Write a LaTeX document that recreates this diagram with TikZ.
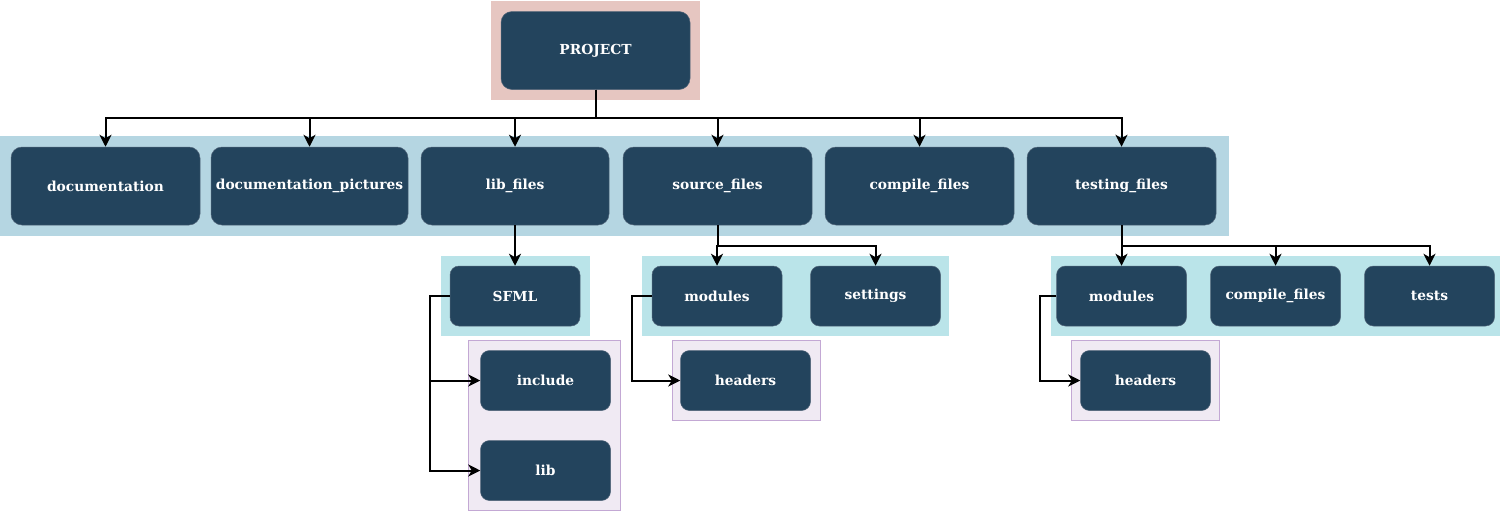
\documentclass[tikz,border=0pt]{standalone}
\usepackage{fontspec}
\newfontfamily\nodefont{DejaVu Serif}
\usetikzlibrary{arrows.meta}
\definecolor{dk}{RGB}{35,68,93}
\definecolor{dkb}{RGB}{80,100,120}
\definecolor{pinkbg}{RGB}{230,198,193}
\definecolor{bluebg}{RGB}{181,214,226}
\definecolor{cyanbg}{RGB}{186,228,233}
\definecolor{purpbg}{RGB}{240,234,243}
\definecolor{purpbd}{RGB}{195,168,212}
\tikzset{
  box/.style={rectangle, rounded corners=9pt, fill=dk, draw=dkb, line width=0.5pt,
    text=white, font=\nodefont\bfseries\fontsize{13.8}{16}\selectfont, inner sep=0pt},
  big/.style={box, minimum width=189pt, minimum height=78pt, rounded corners=11pt},
  small/.style={box, minimum width=130pt, minimum height=60pt},
  conn/.style={draw=black, line width=2pt, -{Stealth[length=12pt,width=12pt,inset=3.5pt]}},
}
\begin{document}
\begin{tikzpicture}[x=1pt,y=-1pt]
\useasboundingbox (0,0) rectangle (1501,512);
% backgrounds
\fill[pinkbg] (491,1) rectangle (700,100);
\fill[bluebg] (0,136) rectangle (1229,236);
\fill[cyanbg] (441,256) rectangle (590,336);
\fill[cyanbg] (642,256) rectangle (949,336);
\fill[cyanbg] (1051,256) rectangle (1500,336);
\filldraw[fill=purpbg, draw=purpbd, line width=0.8pt] (468.5,340.5) rectangle (620.5,510);
\filldraw[fill=purpbg, draw=purpbd, line width=0.8pt] (672.5,340.5) rectangle (820.5,420);
\filldraw[fill=purpbg, draw=purpbd, line width=0.8pt] (1071.5,340.5) rectangle (1219.5,420);
% nodes
\node[big] (proj) at (595.5,50.5) {PROJECT};
\node[big] (doc) at (105.5,186) {documentation};
\node[big, minimum width=197pt] (docpic) at (309.5,186) {documentation\_pictures};
\node[big, minimum width=188pt] (lib) at (515,186) {lib\_files};
\node[big] (src) at (717.5,186) {source\_files};
\node[big] (comp) at (919.5,186) {compile\_files};
\node[big] (test) at (1121.5,186) {testing\_files};
\node[small] (sfml) at (515,296) {SFML};
\node[small] (incl) at (545.5,380.5) {include};
\node[small] (libb) at (545.5,470.5) {lib};
\node[small] (mod1) at (717,296) {modules};
\node[small] (sett) at (875.5,296) {settings};
\node[small] (hdr1) at (745.5,380.5) {headers};
\node[small] (mod2) at (1121.5,296) {modules};
\node[small] (comp2) at (1275.5,296) {compile\_files};
\node[small] (tests) at (1429.5,296) {tests};
\node[small] (hdr2) at (1145.5,380.5) {headers};
% connectors
\foreach \c in {doc,docpic,lib,src,comp,test}
  \draw[conn] (proj.south) -- ++(0,28.5) -| (\c.north);
\draw[conn] (lib.south) -- (sfml.north);
\foreach \c in {mod1,sett}
  \draw[conn] (src.south) -- ++(0,21) -| (\c.north);
\foreach \c in {mod2,comp2,tests}
  \draw[conn] (test.south) -- ++(0,21) -| (\c.north);
\draw[conn] (sfml.west) -- ++(-20,0) |- (incl.west);
\draw[conn] (sfml.west) -- ++(-20,0) |- (libb.west);
\draw[conn] (mod1.west) -- ++(-20,0) |- (hdr1.west);
\draw[conn] (mod2.west) -- ++(-16,0) |- (hdr2.west);
\end{tikzpicture}
\end{document}
